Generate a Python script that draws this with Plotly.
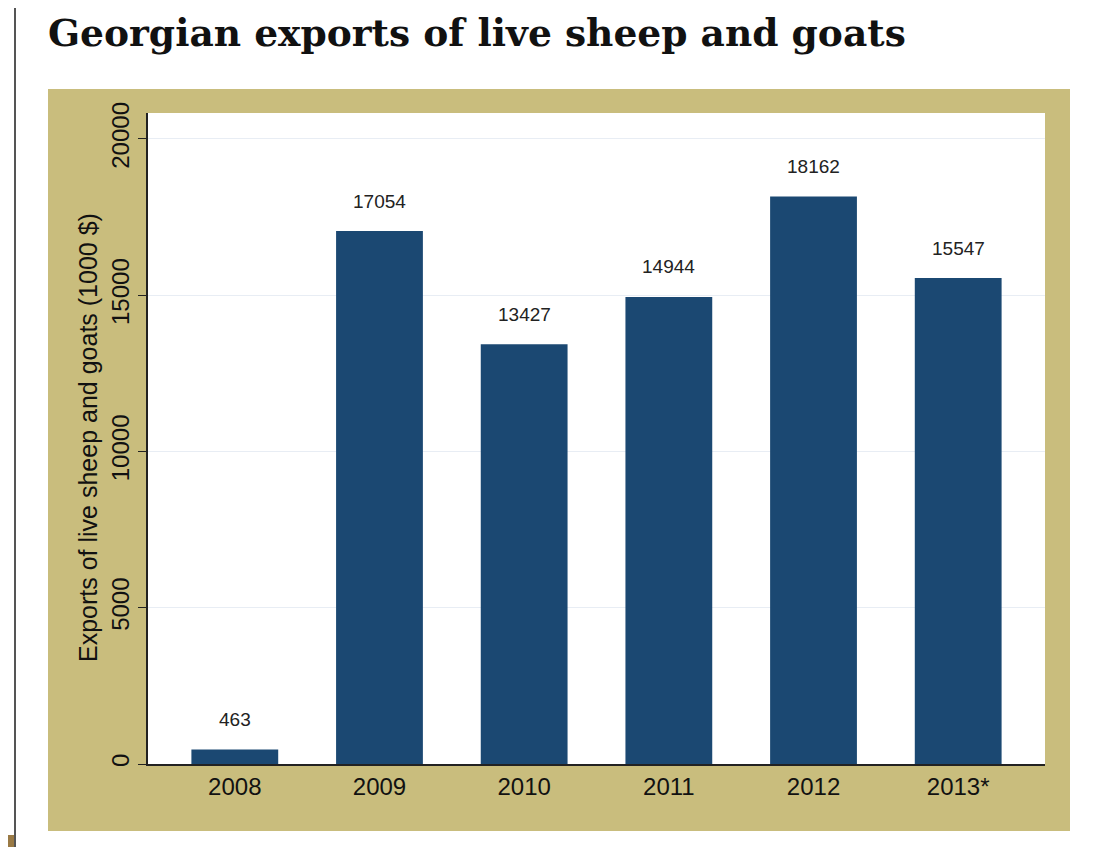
import plotly.graph_objects as go

years = ["2008", "2009", "2010", "2011", "2012", "2013*"]
exports = [463, 17054, 13427, 14944, 18162, 15547]
y_ticks = [0, 5000, 10000, 15000, 20000]
y_tick_labels = ["0", "5000", "10000", "15000", "20000"]

OFF = 8  # page body margin
W, H = 1096 - OFF, 847 - OFF
L, R, T, B = 148 - OFF, 1045 - OFF, 113 - OFF, 764 - OFF
pw, ph = R - L, B - T

def px(x):
    return (x - OFF - L) / pw

def py(y):
    return (B - (y - OFF)) / ph

BAR = "#1b4872"
KHAKI = "#c9bd7d"
SANS = "Liberation Sans, Arial, sans-serif"

fig = go.Figure()
fig.add_trace(go.Bar(x=years, y=exports, width=0.6, marker=dict(color=BAR, line=dict(width=0)),
                     hoverinfo="x+y"))

for i, v in enumerate(exports):
    fig.add_annotation(x=i, y=v, text=str(v), showarrow=False, yshift=30,
                       yanchor="middle", font=dict(family=SANS, size=19, color="#222"))

shapes = [
    dict(type="rect", xref="paper", yref="paper", x0=px(48), x1=px(1070), y0=py(831), y1=py(89),
         fillcolor=KHAKI, line=dict(width=0), layer="below"),
    dict(type="rect", xref="paper", yref="paper", x0=0, x1=1, y0=0, y1=1,
         fillcolor="white", line=dict(width=0), layer="below"),
    dict(type="line", xref="paper", yref="paper", x0=px(15), x1=px(1110), y0=py(5), y1=py(5),
         line=dict(color="#555", width=2)),
    dict(type="line", xref="paper", yref="paper", x0=px(15), x1=px(15), y0=py(5), y1=py(860),
         line=dict(color="#555", width=2)),
    dict(type="rect", xref="paper", yref="paper", x0=px(8), x1=px(14), y0=py(860), y1=py(835),
         fillcolor="#9a7a45", line=dict(width=0)),
]

fig.add_annotation(xref="paper", yref="paper", x=px(88), y=py(438),
                   text="Exports of live sheep and goats (1000 $)", textangle=-90,
                   showarrow=False, xanchor="center", yanchor="middle",
                   font=dict(family=SANS, size=25, color="#111"))

fig.update_layout(
    width=W, height=H,
    margin=dict(l=L, r=W - R, t=T, b=H - B, autoexpand=False),
    paper_bgcolor="white", plot_bgcolor="rgba(0,0,0,0)",
    showlegend=False,
    shapes=shapes,
    title=dict(text="<b>Georgian exports of live sheep and goats</b>",
               x=(48 - OFF) / W, xanchor="left", xref="container",
               y=1 - (33 - OFF) / H, yanchor="middle", yref="container",
               font=dict(family="DejaVu Serif, serif", size=37.6, color="#111")),
    xaxis=dict(type="category", range=[-0.6, 5.6], showline=True, linecolor="#222", linewidth=1.5,
               ticks="", showgrid=False, zeroline=False,
               tickfont=dict(family=SANS, size=24, color="#111")),
    yaxis=dict(range=[0, 20830], tickvals=y_ticks, ticktext=y_tick_labels, tickangle=-90,
               ticks="outside", ticklen=8,
               tickcolor="#222", showline=True, linecolor="#222", linewidth=1.5,
               showgrid=True, gridcolor="rgba(205,215,230,0.45)", gridwidth=1, zeroline=False,
               tickfont=dict(family=SANS, size=24, color="#111")),
)

fig.write_html("out.html")
